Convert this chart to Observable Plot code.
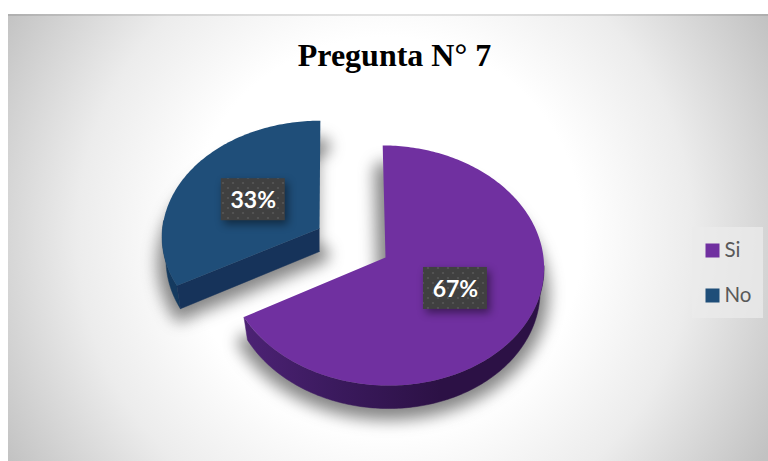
<!DOCTYPE html>
<html lang="es">
<head>
<meta charset="utf-8">
<script src="https://cdn.jsdelivr.net/npm/d3@7"></script>
<script src="https://cdn.jsdelivr.net/npm/@observablehq/plot@0.6"></script>
<style>
html,body{margin:0;padding:0;background:#fff;}
svg{display:block;}
</style>
</head>
<body>
<div id="chart"></div>
<script>
const titleText = "Pregunta N° 7";
const categories = ["Si", "No"];
const values = [67, 33];
const labels = ["67%", "33%"];
const topColors = ["#7030a0", "#1f4e79"];
const wallFills = ["url(#wallSi)", "#143a5f"];
const cutFills = ["#2c1145", "#16335a"];
// Perspective pie placement: apex, half-axes, tilt, shear and thickness of each slice
const pieGeometry = [
  {cx: 385, cy: 257, a: 119.5, b: 158, p: 0.0667, s: 0.025, depth: 23},
  {cx: 319, cy: 228, a: 115, b: 157, p: 0.0667, s: -0.008, depth: 23}
];
const wallTaper = 0.975;

const W = 768, H = 461;
const deg = Math.PI / 180;
const arcs = d3.pie().sort(null)(values);

const project = (theta, r, g) => {
  const u = Math.sin(theta), v = Math.cos(theta), d = 1 + g.p * v * r;
  const dyy = g.a * v * r / d;
  return {x: g.cx + g.b * u * r / d - g.s * dyy, y: g.cy - dyy};
};
const lower = (q, g) => ({x: g.cx + (q.x - g.cx) * wallTaper, y: q.y + g.depth});
const thetas = (a0, a1) => {
  const n = Math.max(2, Math.ceil((a1 - a0) / deg));
  return d3.range(n + 1).map(i => a0 + (a1 - a0) * i / n);
};
const rim = (a0, a1, g) => thetas(a0, a1).map(t => project(t, 1, g));

const slices = arcs.map((arc, i) => {
  const g = pieGeometry[i];
  const a0 = arc.startAngle, a1 = arc.endAngle;
  const apex = project(0, 0, g);
  const top = [apex, ...rim(a0, a1, g)];
  const low = top.map(q => lower(q, g));
  const w0 = Math.max(a0, 94 * deg), w1 = Math.min(a1, 274 * deg);
  const wall = w1 > w0 ? [...rim(w0, w1, g), ...rim(w0, w1, g).map(q => lower(q, g)).reverse()] : [];
  const cut = [];
  if (a0 > 180 * deg && a0 < 360 * deg) {
    const c = project(a0, 1, g);
    cut.push(apex, c, lower(c, g), lower(apex, g));
  }
  const mid = (a0 + a1) / 2;
  return {top, low, wall, cut, label: project(mid, 0.5, g), i};
});

const polygon = (pts, opts) => Plot.line(pts, {x: "x", y: "y", curve: "linear", ...opts});

const legendRows = categories.map((c, i) => ({c, i, color: topColors[i], y: 250 + 45 * i}));
const labelRows = slices.map(s => ({label: labels[s.i], x: s.label.x, y: s.label.y}));

const shadowStyle = {fill: "#333", stroke: "#333", strokeWidth: 22, fillOpacity: 0.42, strokeOpacity: 0.42,
  strokeLinejoin: "round", dy: 3, imageFilter: "blur(7px)"};

const chart = Plot.plot({
  width: W, height: H, margin: 0,
  style: {background: "transparent", overflow: "visible"},
  x: {type: "linear", domain: [0, W], range: [0, W], axis: null},
  y: {type: "linear", domain: [0, H], range: [0, H], axis: null},
  marks: [
    Plot.rect([0], {x1: 8, x2: W, y1: 14, y2: H, fill: "url(#bg)"}),
    Plot.rect([0], {x1: 8, x2: W, y1: 14, y2: 16, fill: "#000", fillOpacity: 0.1}),
    // soft shadows
    ...[slices[1], slices[0]].map(s => polygon(s.low, shadowStyle)),
    // slices
    ...[slices[1], slices[0]].flatMap(s => [
      ...(s.wall.length ? [polygon(s.wall, {fill: wallFills[s.i], stroke: wallFills[s.i], strokeWidth: 0.5})] : []),
      ...(s.cut.length ? [polygon(s.cut, {fill: cutFills[s.i], stroke: cutFills[s.i], strokeWidth: 0.5})] : []),
      polygon(s.top, {fill: topColors[s.i], stroke: "none"})
    ]),
    // data labels
    Plot.rect(labelRows, {
      x1: d => d.x - 32, x2: d => d.x + 32, y1: d => d.y - 21, y2: d => d.y + 21,
      fill: "url(#dots)", imageFilter: "drop-shadow(3px 4px 4px rgba(0,0,0,.45))"
    }),
    Plot.text(labelRows, {
      x: "x", y: "y", text: "label", fill: "#fff", fontSize: 23, fontWeight: 700,
      fontFamily: "Lato", dy: 1
    }),
    // title
    Plot.text([titleText], {
      x: [394], y: [55], text: d => d, fill: "#000", fontSize: 32, fontWeight: 700,
      fontFamily: "Liberation Serif"
    }),
    // legend
    Plot.rect([0], {x1: 692, x2: 763, y1: 227, y2: 318, fill: "#ebebeb", fillOpacity: 0.75}),
    Plot.dot(legendRows, {x: 712, y: "y", r: 7.9, symbol: "square", fill: "color", stroke: "none"}),
    Plot.text(legendRows, {
      x: 724, y: "y", text: "c", textAnchor: "start", fill: "#595959", fontSize: 20.5, fontFamily: "Lato"
    })
  ]
});

d3.select(chart).insert("defs", ":first-child").html(`
  <radialGradient id="bg" gradientUnits="userSpaceOnUse" cx="385" cy="235" r="440">
    <stop offset="0" stop-color="#ffffff"/>
    <stop offset="0.45" stop-color="#ffffff"/>
    <stop offset="0.7" stop-color="#ececec"/>
    <stop offset="1" stop-color="#c2c2c2"/>
  </radialGradient>
  <linearGradient id="wallSi" gradientUnits="userSpaceOnUse" x1="245" x2="440" y1="0" y2="0">
    <stop offset="0" stop-color="#4c2274"/>
    <stop offset="0.45" stop-color="#3b1a5e"/>
    <stop offset="1" stop-color="#2c1145"/>
  </linearGradient>
  <pattern id="dots" patternUnits="userSpaceOnUse" width="10" height="10">
    <rect width="10" height="10" fill="#404040"/>
    <circle cx="3" cy="3" r="1.1" fill="#565656"/>
    <circle cx="8" cy="8" r="1.1" fill="#565656"/>
  </pattern>
`);
document.getElementById("chart").append(chart);
</script>
</body>
</html>
